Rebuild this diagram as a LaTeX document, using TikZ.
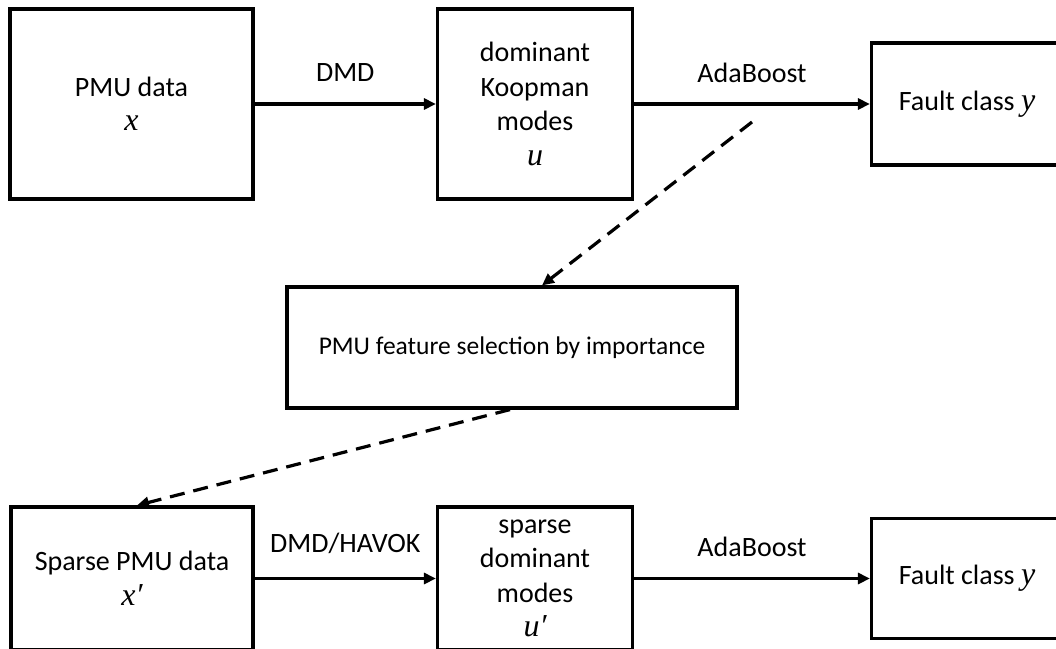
\documentclass[tikz,border=0pt]{standalone}
\usepackage{fontspec}
\setmainfont{Carlito}
\newfontfamily\varfont{Liberation Serif}
\usetikzlibrary{arrows.meta}

% italic variable names, slightly larger than the surrounding text
\newcommand{\mvar}[1]{{\varfont\itshape\fontsize{32}{34.5}\selectfont #1}}

\begin{document}
\begin{tikzpicture}[x=1pt,y=-1pt,
  box/.style={draw, line width=3.2pt, rectangle, align=center, inner sep=0pt,
              font=\fontsize{28}{34.5}\selectfont},
  flow/.style={line width=3.2pt, -{Triangle[length=12pt,width=11pt]}},
  guide/.style={line width=3.2pt, dash pattern=on 15pt off 9pt,
                -{Triangle[length=12pt,width=11pt]}},
  lbl/.style={font=\fontsize{28}{34}\selectfont, inner sep=0pt}]
\useasboundingbox (0,0) rectangle (1056,648);
\clip (0,0) rectangle (1056,648);

% upper pipeline
\node[box, minimum width=243pt, minimum height=190pt] (pmu) at (131.5,104) {PMU data\\\mvar{x}};
\node[box, minimum width=195pt, minimum height=190pt] (koop) at (535,104) {dominant\\Koopman\\modes\\\mvar{u}};
\node[box, minimum width=191pt, minimum height=122pt] (fault1) at (967,104) {Fault class \mvar{y}};

% feature selection
\node[box, minimum width=450pt, minimum height=121pt, font=\fontsize{25.5}{30}\selectfont] (feat) at (512,347.5) {PMU feature selection by importance};

% lower pipeline
\node[box, minimum width=242pt, minimum height=143pt] (spmu) at (132,578.5) {Sparse PMU data\\\mvar{x′}};
\node[box, minimum width=195pt, minimum height=143pt] (smodes) at (535,578.5) {sparse\\dominant\\modes\\\mvar{u′}};
\node[box, minimum width=191pt, minimum height=120pt] (fault2) at (967,578.5) {Fault class \mvar{y}};

% solid connectors
\draw[flow] (pmu.east) -- (koop.west) node[lbl, midway, yshift=31pt] (l1) {DMD};
\draw[flow] (koop.east) -- (fault1.west) node[lbl, midway, yshift=31pt] (l2) {AdaBoost};
\draw[flow] (spmu.east) -- (smodes.west) node[lbl, midway, yshift=35pt] (l3) {DMD/HAVOK};
\draw[flow] (smodes.east) -- (fault2.west) node[lbl, midway, yshift=32pt] (l4) {AdaBoost};

% dashed feedback connectors
\coordinate (d1s) at (752,122);
\draw[guide] (d1s) -- ([xshift=30pt]feat.north);
\draw[guide] ([xshift=-2pt]feat.south) -- ([xshift=5pt]spmu.north);
\end{tikzpicture}
\end{document}
